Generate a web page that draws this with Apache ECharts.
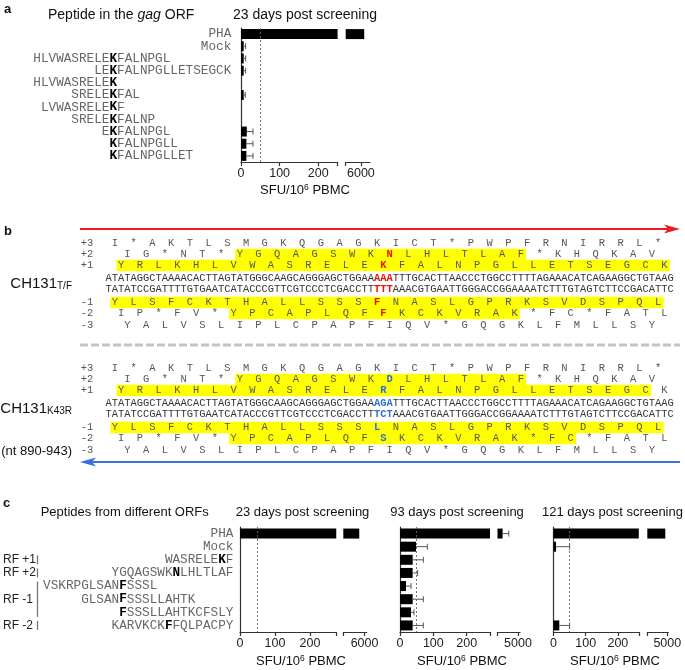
<!DOCTYPE html>
<html><head><meta charset="utf-8">
<script src="https://cdn.jsdelivr.net/npm/echarts@6/dist/echarts.min.js"></script>
<style>html,body{margin:0;padding:0;background:#fff}#c{width:685px;height:670px}</style>
</head><body><div id="c"></div>
<script>
// ================= DATA =================
// Panel a : peptides in the gag ORF, 23 days post screening
const aCategories = ['PHA','Mock','HLVWASRELEKFALNPGL','LEKFALNPGLLETSEGCK','HLVWASRELEK','SRELEKFAL','LVWASRELEKF','SRELEKFALNP','EKFALNPGL','KFALNPGLL','KFALNPGLLET'];
const aBoldIndex  = [-1,-1,10,2,10,5,9,5,1,0,0];
const aValues     = [6110,7,7,7,0,7,0,0,15,14,14];
const aErrors     = [0,5,5,5,0,4,0,0,16,17,17];
const aTickLabels1 = [0,100,200];
const aTickLabels2 = [6000];

// Panel c : peptides from different ORFs
const cCategories = ['PHA','Mock','WASRELEKF','YGQAGSWKNLHLTLAF','VSKRPGLSANFSSSL','GLSANFSSSLLAHTK','FSSSLLAHTKCFSLY','KARVKCKFFQLPACPY'];
const cBoldIndex  = [-1,-1,7,8,10,5,0,7];
const cFrames     = ['','','RF +1','RF +2','RF -1','RF -1','RF -1','RF -2'];
const c23Values   = [5750,0,0,0,0,0,0,0];
const c23Errors   = [0,0,0,0,0,0,0,0];
const c93Values   = [4250,48,38,38,18,38,33,38];
const c93Errors   = [300,34,32,15,15,32,9,32];
const c121Values  = [4900,8,0,0,0,0,0,18];
const c121Errors  = [0,42,0,0,0,0,0,32];
const cTickLabels1 = [0,100,200];
const c23TickLabels2 = [6000];
const c93TickLabels2 = [5000];
const c121TickLabels2 = [5000];
const threshold = 50;

// Panel b : sequences (nt 890-943)
const frameLabels = ['+3','+2','+1','-1','-2','-3'];
const frameFirstCodonCenter = [1,3,2,1,2,3];
const tfDnaTop = 'ATATAGGCTAAAACACTTAGTATGGGCAAGCAGGGAGCTGGAAAAATTTGCACTTAACCCTGGCCTTTTAGAAACATCAGAAGGCTGTAAG';
const tfDnaBot = 'TATATCCGATTTTGTGAATCATACCCGTTCGTCCCTCGACCTTTTTAAACGTGAATTGGGACCGGAAAATCTTTGTAGTCTTCCGACATTC';
const tfFrames = ['I*AKTLSMGKQGAGKICT*PWPFRNIRRL*','IG*NT*YGQAGSWKNLHLTLAF*KHQKAV','YRLKHLVWASRELEKFALNPGLLETSEGCK','YLSFCKTHALLSSSFNASLGPRKSVDSPQL','IP*FV*YPCAPLQFFKCKVRAK*FC*FATL','YALVSLIPLCPAPFIQV*GQGKLFMLLSY'];
const tfHighlight = [null,[6,21],[0,29],[0,29],[6,21],null];
const k43rDnaTop = 'ATATAGGCTAAAACACTTAGTATGGGCAAGCAGGGAGCTGGAAAGATTTGCACTTAACCCTGGCCTTTTAGAAACATCAGAAGGCTGTAAG';
const k43rDnaBot = 'TATATCCGATTTTGTGAATCATACCCGTTCGTCCCTCGACCTTTCTAAACGTGAATTGGGACCGGAAAATCTTTGTAGTCTTCCGACATTC';
const k43rFrames = ['I*AKTLSMGKQGAGKICT*PWPFRNIRRL*','IG*NT*YGQAGSWKDLHLTLAF*KHQKAV','YRLKHLVWASRELERFALNPGLLETSEGCK','YLSFCKTHALLSSSLNASLGPRKSVDSPQL','IP*FV*YPCAPLQFSKCKVRAK*FC*FATL','YALVSLIPLCPAPFIQV*GQGKLFMLLSY'];
const k43rHighlight = [null,[6,21],[0,28],[0,29],[6,24],null];
const mutatedAA = [null,14,14,14,14,null];
const mutatedNT = [43,46];

// ================= STYLE / LAYOUT =================
const SANS = "'Liberation Sans', Arial, sans-serif";
const MONO = "'Liberation Mono', 'Courier New', monospace";
const PEP_PX = 12.7;
const AX = {color:'#333', width:1.2};

const option = {animation:false, backgroundColor:'#fff', grid:[], xAxis:[], yAxis:[], series:[], graphic:{elements:[]}};
const G = option.graphic.elements;

function txt(x, y, text, o) {
  const st = Object.assign({text, fill:'#111', fontFamily:SANS, fontSize:13, align:'left', verticalAlign:'middle', textAlign:'left', textVerticalAlign:'middle'}, o||{});
  return {type:'text', x, y, silent:true, z:10, style:st};
}

function pepRich(text, boldIdx, startCol) {
  const pad = ' '.repeat(Math.max(0,startCol));
  if (boldIdx < 0) return '{n|' + pad + text + '}';
  const pre = pad + text.slice(0, boldIdx), post = text.slice(boldIdx+1);
  return (pre ? '{n|' + pre + '}' : '') + '{b|' + text[boldIdx] + '}' + (post ? '{n|' + post + '}' : '');
}

function xAxisCfg(gridIndex, min, max, labels, ticks) {
  return {gridIndex, type:'value', min, max, splitLine:{show:false},
    axisLine:{show:true, lineStyle:AX},
    axisTick:{show:true, length:4, customValues:ticks, lineStyle:AX},
    axisLabel:{customValues:labels, formatter:(v) => String(v), fontSize:12.5, color:'#222', fontFamily:SANS, margin:5, hideOverlap:false}};
}

function errRender(params, api) {
  const v = api.value(0), e = api.value(1), c = api.value(2);
  const p0 = api.coord([v, c]), p1 = api.coord([v + e, c]);
  const s = {stroke:'#555', lineWidth:1};
  return {type:'group', children:[
    {type:'line', shape:{x1:p0[0], y1:p0[1], x2:p1[0], y2:p1[1]}, style:s},
    {type:'line', shape:{x1:p1[0], y1:p1[1]-3, x2:p1[0], y2:p1[1]+3}, style:s}
  ]};
}

function addChart(c) {
  const gi = option.grid.length;
  option.grid.push({left:c.l1, top:c.top, width:c.w1, height:c.h, outerBoundsMode:'none'});
  option.grid.push({left:c.l2, top:c.top, width:c.w2, height:c.h, outerBoundsMode:'none'});
  option.xAxis.push(xAxisCfg(gi, 0, c.max1, c.labels1, c.labels1.concat([c.max1])));
  option.xAxis.push(xAxisCfg(gi+1, c.min2, c.max2, c.labels2, [c.min2].concat(c.labels2)));
  const yl = c.labelFn ? {show:true, interval:0, align:'left', margin:c.l1 - c.labelX,
      formatter:(v, i) => c.labelFn(i),
      rich:{n:{fontFamily:MONO, fontSize:PEP_PX, color:'#666'}, b:{fontFamily:MONO, fontSize:PEP_PX, fontWeight:'bold', color:'#000'}}}
    : {show:false};
  option.yAxis.push({gridIndex:gi, type:'category', inverse:true, data:c.cats, axisLine:{show:true, lineStyle:AX}, axisTick:{show:false}, axisLabel:yl, splitLine:{show:false}});
  option.yAxis.push({gridIndex:gi+1, type:'category', inverse:true, data:c.cats, show:false});
  option.series.push({type:'line', xAxisIndex:gi, yAxisIndex:gi, data:[], z:1, silent:true,
    markLine:{silent:true, symbol:['none','none'], label:{show:false}, lineStyle:{type:[2,2], color:'#666', width:0.9}, data:[{xAxis:threshold}]}});
  option.series.push({type:'bar', xAxisIndex:gi, yAxisIndex:gi, data:c.values, barWidth:10, itemStyle:{color:'#000'}, z:2});
  option.series.push({type:'bar', xAxisIndex:gi+1, yAxisIndex:gi+1, data:c.values.map(v => v > c.min2 ? v : '-'), barWidth:10, itemStyle:{color:'#000'}, z:2});
  const e1 = [], e2 = [];
  c.values.forEach((v, i) => { const e = c.errors[i]; if (!(e > 0)) return; (v > c.max1 ? e2 : e1).push([v, e, i]); });
  option.series.push({type:'custom', xAxisIndex:gi, yAxisIndex:gi, data:e1, encode:{x:0, y:2}, renderItem:errRender, z:3});
  option.series.push({type:'custom', xAxisIndex:gi+1, yAxisIndex:gi+1, data:e2, encode:{x:0, y:2}, renderItem:errRender, z:3});
  G.push(txt(c.titleX, c.titleY, c.title, {fontSize:c.titleSize, align:'center', textAlign:'center'}));
  G.push(txt(c.nameX, c.nameY, '{a|SFU/10}{s|6}{a| PBMC}', {align:'center', textAlign:'center',
    rich:{a:{fontSize:13, fontFamily:SANS, fill:'#111'}, s:{fontSize:8.5, fontFamily:SANS, fill:'#111', verticalAlign:'top'}}}));
}

// ---- Panel a ----
addChart({cats:aCategories, values:aValues, errors:aErrors, top:28, h:134,
  l1:241, w1:96.6, max1:250, labels1:aTickLabels1,
  l2:345.7, w2:24.3, min2:5500, max2:6300, labels2:aTickLabels2,
  labelX:33.3,
  labelFn:(i) => {
    const t = aCategories[i], b = aBoldIndex[i];
    const col = b < 0 ? 26 - t.length : 10 - b;
    return pepRich(t, b, col);
  },
  title:'23 days post screening', titleX:305, titleY:15, titleSize:14, nameX:305, nameY:190});
G.push(txt(4, 9, 'a', {fontWeight:'bold', fontSize:13}));
G.push(txt(48, 15, '{n|Peptide in the }{i|gag}{n| ORF}', {rich:{n:{fontSize:14, fontFamily:SANS, fill:'#111'}, i:{fontSize:14, fontFamily:SANS, fontStyle:'italic', fill:'#111'}}}));

// ---- Panel c ----
const cTop = 527, cH = 105;
addChart({cats:cCategories, values:c23Values, errors:c23Errors, top:cTop, h:cH,
  l1:240, w1:96.25, max1:275, labels1:cTickLabels1,
  l2:343.3, w2:23.4, min2:5000, max2:6100, labels2:c23TickLabels2,
  labelX:5,
  labelFn:(i) => {
    const t = cCategories[i], b = cBoldIndex[i];
    const grouped = cFrames.filter(f => f && f === cFrames[i]).length > 1;
    const col = grouped ? 15 - b : 30 - t.length;
    return pepRich(t, b, col);
  },
  title:'23 days post screening', titleX:302.5, titleY:512, titleSize:13, nameX:301, nameY:661});
addChart({cats:cCategories, values:c93Values, errors:c93Errors, top:cTop, h:cH,
  l1:400, w1:90, max1:270, labels1:cTickLabels1,
  l2:497.5, w2:22.5, min2:4000, max2:5100, labels2:c93TickLabels2,
  title:'93 days post screening', titleX:457, titleY:512, titleSize:13, nameX:462, nameY:661});
addChart({cats:cCategories, values:c121Values, errors:c121Errors, top:cTop, h:cH,
  l1:553.5, w1:85.3, max1:265, labels1:cTickLabels1,
  l2:647.3, w2:21, min2:4000, max2:5050, labels2:c121TickLabels2,
  title:'121 days post screening', titleX:612.5, titleY:512, titleSize:13, nameX:615, nameY:661});
G.push(txt(3, 503, 'c', {fontWeight:'bold', fontSize:13}));
G.push(txt(40.7, 512, 'Peptides from different ORFs', {fontSize:13}));
(function(){
  const band = cH / cCategories.length;
  let i = 0;
  while (i < cFrames.length) {
    if (!cFrames[i]) { i++; continue; }
    let j = i; while (j + 1 < cFrames.length && cFrames[j+1] === cFrames[i]) j++;
    const y1 = cTop + (i + 0.5) * band, y2 = cTop + (j + 0.5) * band;
    G.push(txt(3, (y1 + y2) / 2, cFrames[i], {fontSize:12, fill:'#222'}));
    G.push({type:'line', silent:true, shape:{x1:37.5, y1:y1 - 4.5, x2:37.5, y2:y2 + 4.5}, style:{stroke:'#777', lineWidth:1.3}});
    i = j + 1;
  }
})();

// ---- Panel b ----
const DNA_X = 105.5, DNA_CW = 6.25, SEQ_PX = DNA_CW / 0.6001;
const frameRowOffset = [0, 11.5, 22.5, 59.5, 70.5, 82];
const dnaRowOffset = [35.5, 46.5];
function seqLine(frame, start) {
  const arr = new Array(91).fill(' ');
  for (let k = 0; k < frame.length; k++) arr[start + 3*k] = frame[k];
  return arr.join('');
}
function addBlock(y0, dnaTop, dnaBot, frames, hls, mutColor) {
  frames.forEach((f, r) => {
    const y = y0 + frameRowOffset[r], st = frameFirstCodonCenter[r];
    const hl = hls[r];
    if (hl) {
      const xa = DNA_X + (st + 3*hl[0] + 0.5) * DNA_CW - 4.5;
      const xb = DNA_X + (st + 3*hl[1] + 0.5) * DNA_CW + 5;
      G.push({type:'rect', silent:true, z:1, shape:{x:xa, y:y - 5.75, width:xb - xa, height:11.5}, style:{fill:'#ffff00'}});
    }
    G.push(txt(80.7, y, frameLabels[r], {fontFamily:MONO, fontSize:10.4, fill:'#555'}));
    const line = seqLine(f, st);
    let rich;
    if (mutatedAA[r] != null) {
      const p = st + 3*mutatedAA[r];
      rich = '{n|' + line.slice(0, p) + '}{m|' + line[p] + '}{n|' + line.slice(p+1) + '}';
    } else rich = '{n|' + line + '}';
    G.push(txt(DNA_X, y, rich, {rich:{n:{fontFamily:MONO, fontSize:SEQ_PX, fill:'#555'}, m:{fontFamily:MONO, fontSize:SEQ_PX, fontWeight:'bold', fill:mutColor}}}));
  });
  [dnaTop, dnaBot].forEach((s, r) => {
    const y = y0 + dnaRowOffset[r];
    const rich = '{n|' + s.slice(0, mutatedNT[0]) + '}{m|' + s.slice(mutatedNT[0], mutatedNT[1]) + '}{n|' + s.slice(mutatedNT[1]) + '}';
    G.push(txt(DNA_X, y, rich, {rich:{n:{fontFamily:MONO, fontSize:SEQ_PX, fill:'#333'}, m:{fontFamily:MONO, fontSize:SEQ_PX, fontWeight:'bold', fill:mutColor}}}));
  });
}
addBlock(243, tfDnaTop, tfDnaBot, tfFrames, tfHighlight, '#e8140c');
addBlock(368, k43rDnaTop, k43rDnaBot, k43rFrames, k43rHighlight, '#2f6fd6');
G.push(txt(4, 231, 'b', {fontWeight:'bold', fontSize:13}));
G.push({type:'line', silent:true, shape:{x1:80, y1:229, x2:670, y2:229}, style:{stroke:'#ee1c1c', lineWidth:2}});
G.push({type:'polygon', silent:true, shape:{points:[[664,224.5],[680,229],[664,233.5],[668,229]]}, style:{fill:'#ee1c1c'}});
G.push({type:'line', silent:true, shape:{x1:90, y1:462, x2:680, y2:462}, style:{stroke:'#3a6fe0', lineWidth:2}});
G.push({type:'polygon', silent:true, shape:{points:[[96,457.5],[80,462],[96,466.5],[92,462]]}, style:{fill:'#3a6fe0'}});
G.push({type:'line', silent:true, shape:{x1:80, y1:345, x2:680, y2:345}, style:{stroke:'#c4c4c4', lineWidth:3, lineDash:[8,3]}});
const strainRich = {m:{fontSize:15, fontFamily:SANS, fill:'#111'}, s:{fontSize:10, fontFamily:SANS, fill:'#111', verticalAlign:'bottom'}};
G.push(txt(72, 284, '{m|CH131}{s|T/F}', {align:'right', textAlign:'right', rich:strainRich}));
G.push(txt(72, 409, '{m|CH131}{s|K43R}', {align:'right', textAlign:'right', rich:strainRich}));
G.push(txt(72, 451, '(nt 890-943)', {align:'right', textAlign:'right', fontSize:13}));

const chart = echarts.init(document.getElementById('c'), null, {renderer:'canvas'});
chart.setOption(option);
</script>
</body></html>
